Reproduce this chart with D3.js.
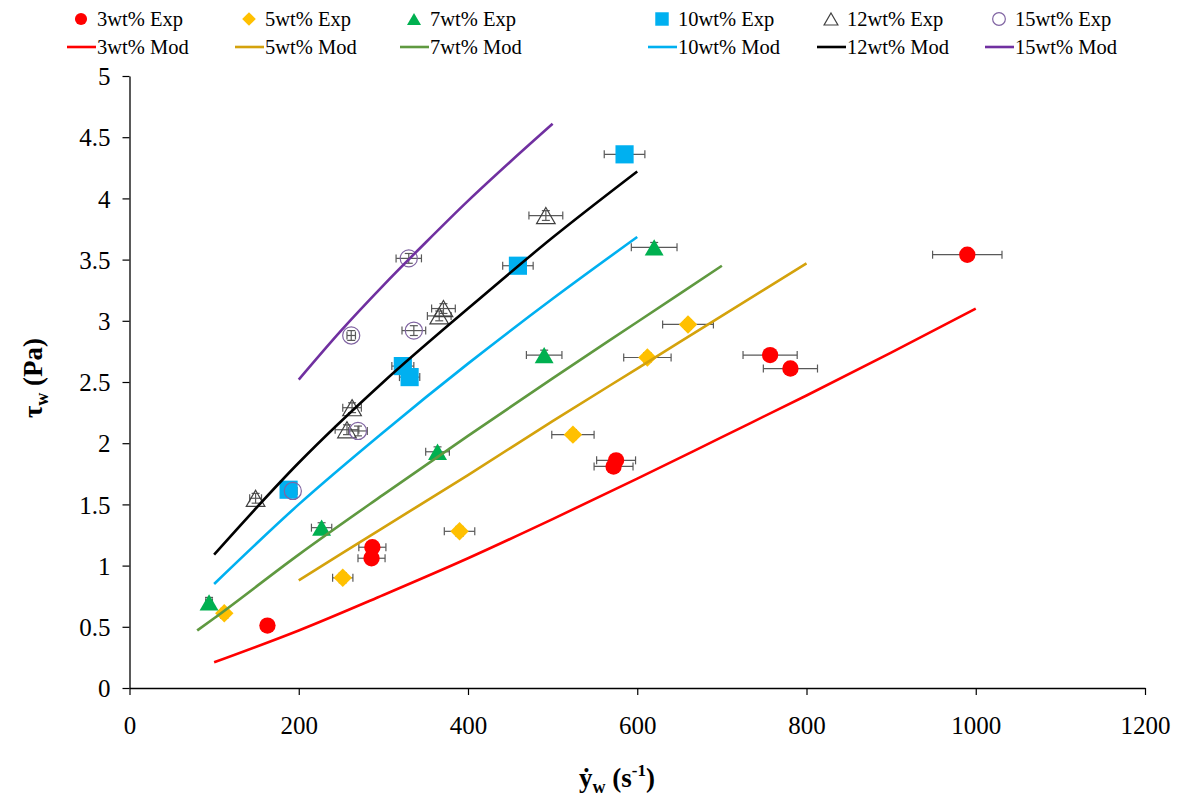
<!DOCTYPE html>
<html><head><meta charset="utf-8">
<script src="https://cdn.jsdelivr.net/npm/d3@7"></script>
<style>body{margin:0;background:#fff}svg{display:block}text{font-family:"Liberation Serif","Times New Roman",serif}</style>
</head><body>
<svg id="c" width="1198" height="797"></svg>
<script>
// ---- data ----
const xTicks = [0, 200, 400, 600, 800, 1000, 1200];
const yTicks = [0, 0.5, 1, 1.5, 2, 2.5, 3, 3.5, 4, 4.5, 5];

const exp3X   = [163, 287, 286, 572, 575, 757, 781, 990];
const exp3Y   = [0.51, 1.15, 1.06, 1.81, 1.86, 2.72, 2.61, 3.54];
const exp3XE  = [5, 16, 16, 23, 23, 32, 32, 41];
const exp5X   = [112, 252, 390, 524, 612, 660];
const exp5Y   = [0.61, 0.90, 1.28, 2.07, 2.70, 2.97];
const exp5XE  = [4, 12, 18, 25, 28, 30];
const exp7X   = [94, 227, 364, 490, 620];
const exp7Y   = [0.70, 1.31, 1.93, 2.72, 3.60];
const exp7XE  = [4, 12, 14, 21, 27];
const exp10X  = [188, 323, 331, 459, 585];
const exp10Y  = [1.62, 2.63, 2.54, 3.45, 4.36];
const exp10XE = [5, 13, 12, 18, 24];
const exp12X  = [149, 257, 263, 366, 371, 492];
const exp12Y  = [1.55, 2.11, 2.29, 3.04, 3.10, 3.86];
const exp12XE = [7, 14, 11, 14, 14, 20];
const exp15X  = [193, 270, 262, 336, 330];
const exp15Y  = [1.61, 2.10, 2.88, 2.92, 3.51];
const exp15XE = [5, 11, 5, 14, 15];
const yErr = 0.04;

const mod3X  = [100, 200, 300, 400, 500, 600, 700, 800, 900, 1000];
const mod3Y  = [0.21, 0.47, 0.76, 1.06, 1.38, 1.71, 2.05, 2.39, 2.74, 3.10];
const mod5X  = [200, 300, 400, 500, 600, 700, 800];
const mod5Y  = [0.88, 1.31, 1.74, 2.18, 2.61, 3.04, 3.47];
const mod7X  = [80, 100, 200, 300, 400, 500, 600, 700];
const mod7Y  = [0.47, 0.57, 1.09, 1.58, 2.06, 2.53, 2.99, 3.45];
const mod10X = [100, 200, 300, 400, 500, 600];
const mod10Y = [0.85, 1.50, 2.09, 2.65, 3.18, 3.685];
const mod12X = [100, 200, 300, 400, 500, 600];
const mod12Y = [1.09, 1.84, 2.50, 3.10, 3.68, 4.22];
const mod15X = [200, 250, 300, 350, 400, 450, 500];
const mod15Y = [2.52, 2.92, 3.29, 3.64, 3.98, 4.30, 4.61];

const expNames = ["3wt% Exp", "5wt% Exp", "7wt% Exp", "10wt% Exp", "12wt% Exp", "15wt% Exp"];
const modNames = ["3wt% Mod", "5wt% Mod", "7wt% Mod", "10wt% Mod", "12wt% Mod", "15wt% Mod"];

// ---- styles ----
const expSeries = [
  {name: expNames[0], xs: exp3X,  ys: exp3Y,  xe: exp3XE,  shape: "circle",  fill: "#FF0000", stroke: "none", size: 210},
  {name: expNames[1], xs: exp5X,  ys: exp5Y,  xe: exp5XE,  shape: "diamond", fill: "#FFC000", stroke: "none", size: 170},
  {name: expNames[2], xs: exp7X,  ys: exp7Y,  xe: exp7XE,  shape: "triangle",fill: "#00B050", stroke: "none", size: 155},
  {name: expNames[3], xs: exp10X, ys: exp10Y, xe: exp10XE, shape: "square",  fill: "#00B0F0", stroke: "none", size: 330},
  {name: expNames[4], xs: exp12X, ys: exp12Y, xe: exp12XE, shape: "triangle",fill: "none", stroke: "#404040", size: 150},
  {name: expNames[5], xs: exp15X, ys: exp15Y, xe: exp15XE, shape: "circle",  fill: "none", stroke: "#8064A2", size: 230}
];
const modSeries = [
  {name: modNames[0], xs: mod3X,  ys: mod3Y,  color: "#FF0000"},
  {name: modNames[1], xs: mod5X,  ys: mod5Y,  color: "#D4A20C"},
  {name: modNames[2], xs: mod7X,  ys: mod7Y,  color: "#5F9940"},
  {name: modNames[3], xs: mod10X, ys: mod10Y, color: "#00B0F0"},
  {name: modNames[4], xs: mod12X, ys: mod12Y, color: "#000000"},
  {name: modNames[5], xs: mod15X, ys: mod15Y, color: "#7030A0"}
];

const svg = d3.select("#c");
const x = d3.scaleLinear().domain([0, 1200]).range([129.5, 1145]);
const y = d3.scaleLinear().domain([0, 5]).range([688, 76]);
const serif = '"Liberation Serif","Times New Roman",serif';

// axes
const gx = svg.append("g").attr("transform", `translate(0,${y(0)})`)
  .call(d3.axisBottom(x).tickValues(xTicks).tickSize(7).tickSizeOuter(0).tickFormat(d => String(d)));
const gy = svg.append("g").attr("transform", `translate(${x(0)},0)`)
  .call(d3.axisLeft(y).tickValues(yTicks).tickSize(7).tickSizeOuter(0).tickFormat(d => String(d)));
[gx, gy].forEach(g => {
  g.attr("font-family", serif);
  g.select(".domain").attr("stroke", "#000").attr("stroke-width", 1.3);
  g.selectAll(".tick line").attr("stroke", "#000").attr("stroke-width", 1.2);
  g.selectAll(".tick text").attr("fill", "#000").style("font-size", "25px").style("font-family", serif);
});
gx.selectAll(".tick text").attr("dy", "0").attr("y", 46);
gy.selectAll(".tick text").attr("x", -19).attr("dy", "0.35em");

// axis titles
const xt = svg.append("text").attr("x", 617).attr("y", 787).attr("text-anchor", "middle")
  .style("font-size", "27px").style("font-weight", "bold");
xt.append("tspan").text("ẏ");
xt.append("tspan").attr("dy", 6).style("font-size", "18px").text("w");
xt.append("tspan").attr("dy", -6).text(" (s");
xt.append("tspan").attr("dy", -11).style("font-size", "17px").text("-1");
xt.append("tspan").attr("dy", 11).text(")");

const yt = svg.append("text").attr("transform", "translate(42,378) rotate(-90)").attr("text-anchor", "middle")
  .style("font-size", "27px").style("font-weight", "bold");
yt.append("tspan").text("τ");
yt.append("tspan").attr("dy", 6).style("font-size", "18px").text("w");
yt.append("tspan").attr("dy", -6).text(" (Pa)");

function symPath(shape, size) {
  const t = {circle: d3.symbolCircle, diamond: d3.symbolSquare, triangle: d3.symbolTriangle, square: d3.symbolSquare}[shape];
  return d3.symbol().type(t).size(size)();
}
function symTransform(shape, size, px, py) {
  if (shape === "diamond") return `translate(${px},${py}) rotate(45)`;
  if (shape === "triangle") {
    const k = Math.sqrt(size / (Math.sqrt(3) * 3));
    return `translate(${px},${py + k / 2})`;
  }
  return `translate(${px},${py})`;
}

// error bars (behind markers)
const eb = svg.append("g").attr("stroke", "#595959").attr("stroke-width", 1.2).attr("fill", "none");
expSeries.forEach(s => {
  s.xs.forEach((xv, i) => {
    const yv = s.ys[i], e = s.xe[i];
    const px = x(xv), py = y(yv), x0 = x(xv - e), x1 = x(xv + e);
    eb.append("line").attr("x1", x0).attr("x2", x1).attr("y1", py).attr("y2", py);
    eb.append("line").attr("x1", x0).attr("x2", x0).attr("y1", py - 4).attr("y2", py + 4);
    eb.append("line").attr("x1", x1).attr("x2", x1).attr("y1", py - 4).attr("y2", py + 4);
    const y0 = y(yv - yErr), y1 = y(yv + yErr);
    eb.append("line").attr("x1", px).attr("x2", px).attr("y1", y0).attr("y2", y1);
    eb.append("line").attr("x1", px - 4).attr("x2", px + 4).attr("y1", y0).attr("y2", y0);
    eb.append("line").attr("x1", px - 4).attr("x2", px + 4).attr("y1", y1).attr("y2", y1);
  });
});

// markers
expSeries.forEach(s => {
  svg.append("g").selectAll("path").data(s.xs.map((xv, i) => [xv, s.ys[i]])).join("path")
    .attr("d", symPath(s.shape, s.size))
    .attr("transform", d => symTransform(s.shape, s.size, x(d[0]), y(d[1])))
    .attr("fill", s.fill).attr("stroke", s.stroke).attr("stroke-width", 1.2);
});

// model lines
const line = d3.line().x(d => x(d[0])).y(d => y(d[1])).curve(d3.curveMonotoneX);
modSeries.forEach(s => {
  svg.append("path").datum(s.xs.map((xv, i) => [xv, s.ys[i]]))
    .attr("d", line).attr("fill", "none").attr("stroke", s.color).attr("stroke-width", 2.6);
});

// legend
const legCols = [97, 265, 430, 678, 847, 1015];
const leg = svg.append("g");
expSeries.forEach((s, i) => {
  const cx = legCols[i];
  const sz = s.size * 0.55;
  leg.append("path").attr("d", symPath(s.shape, sz))
    .attr("transform", symTransform(s.shape, sz, cx - 16, 19))
    .attr("fill", s.fill).attr("stroke", s.stroke).attr("stroke-width", 1.2);
  leg.append("text").attr("x", cx).attr("y", 19).attr("dy", "0.35em").style("font-size", "20.5px").text(s.name);
});
modSeries.forEach((s, i) => {
  const cx = legCols[i];
  leg.append("line").attr("x1", cx - 30).attr("x2", cx - 1).attr("y1", 47).attr("y2", 47)
    .attr("stroke", s.color).attr("stroke-width", 2.6);
  leg.append("text").attr("x", cx).attr("y", 47).attr("dy", "0.35em").style("font-size", "20.5px").text(s.name);
});
</script>
</body></html>
